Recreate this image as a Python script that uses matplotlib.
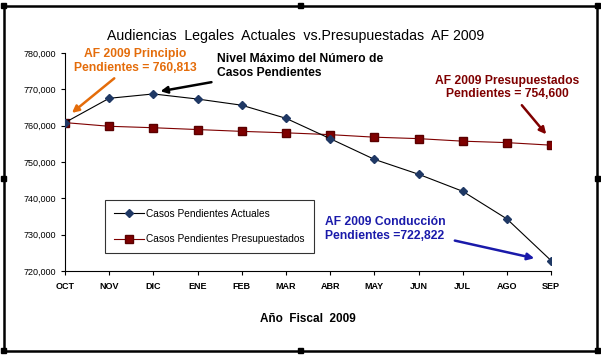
import matplotlib
matplotlib.use("Agg")
import matplotlib.pyplot as plt
from matplotlib.patches import Rectangle
from matplotlib.ticker import FuncFormatter

# --------- DATA ---------
MONTHS = ["OCT", "NOV", "DIC", "ENE", "FEB", "MAR", "ABR", "MAY", "JUN", "JUL", "AGO", "SEP"]
ACTUALES = [760813, 767500, 768700, 767300, 765600, 762000, 756400, 750700, 746600, 741900, 734300, 722822]
PRESUPUESTADOS = [760813, 759800, 759400, 758900, 758400, 758000, 757500, 756800, 756400, 755700, 755300, 754600]
# ------------------------

plt.rcParams["font.family"] = ["Liberation Sans", "DejaVu Sans"]

fig = plt.figure(figsize=(6.01, 3.55), dpi=100)
fig.patch.set_facecolor("white")

# outer chart border with selection handles
fig.add_artist(Rectangle((0.006, 0.012), 0.988, 0.972, transform=fig.transFigure,
                         fill=False, edgecolor="black", linewidth=1.8))
for hx in (0.006, 0.5, 0.994):
    for hy in (0.012, 0.984):
        fig.add_artist(Rectangle((hx - 0.004, hy - 0.007), 0.008, 0.014, transform=fig.transFigure,
                                 facecolor="black", edgecolor="black"))
for hx in (0.006, 0.994):
    fig.add_artist(Rectangle((hx - 0.004, 0.498 - 0.007), 0.008, 0.014, transform=fig.transFigure,
                             facecolor="black", edgecolor="black"))

ax = fig.add_axes([0.108, 0.237, 0.809, 0.614])
x = list(range(len(MONTHS)))

ax.plot(x, ACTUALES, color="black", linewidth=0.8, marker="D", markersize=4,
        markerfacecolor="#1F3864", markeredgecolor="#1F3864", label="Casos Pendientes Actuales", zorder=3)
ax.plot(x, PRESUPUESTADOS, color="#7F0000", linewidth=0.8, marker="s", markersize=5.5,
        markerfacecolor="#7F0000", markeredgecolor="#5A0000", label="Casos Pendientes Presupuestados", zorder=2)

ax.set_xlim(0, 11)
ax.set_ylim(720000, 780000)
ax.set_yticks(range(720000, 780001, 10000))
ax.yaxis.set_major_formatter(FuncFormatter(lambda v, p: f"{int(v):,}"))
ax.set_xticks(x)
ax.set_xticklabels(MONTHS, fontweight="bold")
ax.tick_params(axis="both", labelsize=6.5, length=3, width=0.8, direction="out")
ax.tick_params(axis="x", pad=5)
for s in ("top", "right"):
    ax.spines[s].set_visible(False)

ax.set_title("Audiencias  Legales  Actuales  vs.Presupuestadas  AF 2009", fontsize=10.2, pad=9, x=0.474)
ax.set_xlabel("Año  Fiscal  2009", fontsize=8.5, fontweight="bold", labelpad=16)

leg = ax.legend(loc="upper left", bbox_to_anchor=(0.082, 0.326), fontsize=7.3, frameon=True,
                fancybox=False, edgecolor="black", borderpad=0.9, labelspacing=1.5, handlelength=3.0,
                handletextpad=0.2, borderaxespad=0)
leg.get_frame().set_linewidth(0.8)

arrow_kw = dict(arrowstyle="-|>", linewidth=1.8, mutation_scale=10)

ax.annotate("AF 2009 Principio\nPendientes = 760,813", xy=(0.11, 763000), xytext=(1.6, 777800),
            ha="center", va="center", fontsize=8.7, fontweight="bold", color="#E46C0A",
            arrowprops=dict(color="#E46C0A", **arrow_kw), annotation_clip=False)
ax.annotate("Nivel Máximo del Número de\nCasos Pendientes", xy=(2.1, 769300), xytext=(3.44, 776300),
            ha="left", va="center", fontsize=8.7, fontweight="bold", color="black",
            arrowprops=dict(color="black", shrinkA=2, **arrow_kw), annotation_clip=False)
ax.annotate("AF 2009 Presupuestados\nPendientes = 754,600", xy=(10.93, 757000), xytext=(10.0, 770500),
            ha="center", va="center", fontsize=8.7, fontweight="bold", color="#7F0000",
            arrowprops=dict(color="#7F0000", **arrow_kw), annotation_clip=False)
ax.annotate("", xy=(10.68, 723300), xytext=(8.76, 728500),
            arrowprops=dict(color="#1A1AAA", **arrow_kw), annotation_clip=False)
ax.text(5.88, 731500, "AF 2009 Conducción\nPendientes =722,822", ha="left", va="center",
        fontsize=8.7, fontweight="bold", color="#1A1AAA")

fig.savefig("out.png", dpi=100)
